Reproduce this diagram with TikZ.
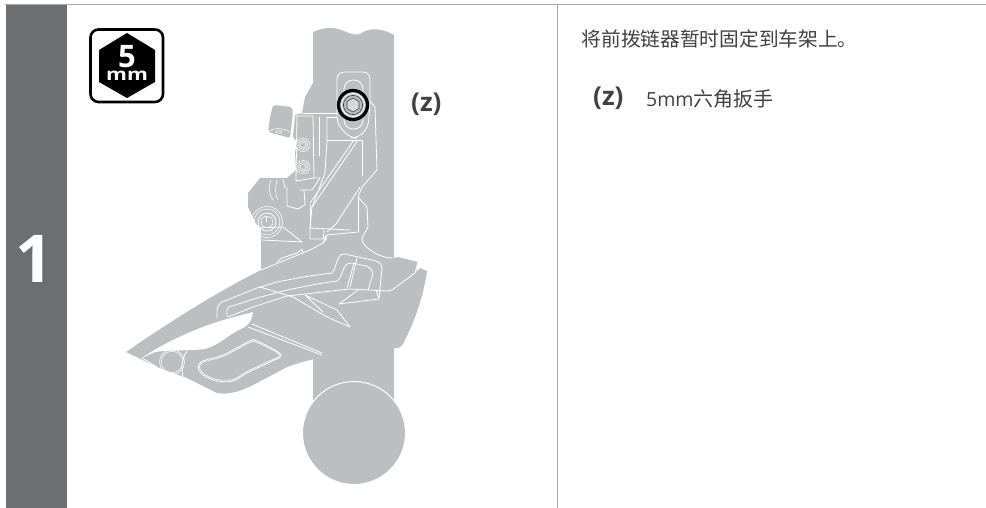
\documentclass[tikz,border=0pt]{standalone}
\usepackage{fontspec}
\setmainfont{Open Sans}
\newfontfamily\cjk{Noto Sans CJK SC}
\definecolor{part}{HTML}{BCBEC0}
\definecolor{side}{HTML}{6D6E71}
\definecolor{rule}{HTML}{A7A9AC}
\definecolor{ink}{HTML}{414042}
\tikzset{
  cut/.style={draw=white,line width=0.8pt,line join=round,line cap=round},
  fine/.style={draw=white,line width=0.55pt},
  dark/.style={draw=ink,line width=0.6pt},
  txt/.style={inner sep=0pt,anchor=base west,text=ink}
}
\begin{document}
\begin{tikzpicture}[x=1pt,y=-1pt]
\useasboundingbox (0,0) rectangle (986,508);
% frame
\fill[side] (6,5) rectangle (67,508);
\draw[rule,line width=1.4pt] (5,4.5) -- (986,4.5);
\draw[rule,line width=1.4pt] (557.5,5) -- (557.5,508);
\node[inner sep=0pt,text=white,font=\bfseries\fontsize{66}{66}\selectfont] (stepnum) at (34.5,259) {1};
% tool badge
\draw[black,line width=2.6pt,fill=white,rounded corners=8pt] (90.5,29.5) rectangle (163,102);
\fill[black] (127,33) -- (155,50) -- (155,82) -- (127,98) -- (99,82) -- (99,50) -- cycle;
\node[inner sep=0pt,text=white,font=\bfseries] (badgetext) at (127,62.7) {\vbox{\offinterlineskip
  \hbox to 50pt{\hss\fontsize{31}{31}\selectfont 5\hss}\vskip 3pt
  \hbox to 50pt{\hss\fontsize{17}{17}\selectfont\scalebox{1.25}[1]{mm}\hss}}};
% seat tube
\fill[part] (313,32) .. controls (322,28) and (330,27) .. (338,29) .. controls (346,31) and (352,36) .. (360,34)
  .. controls (368,28) and (380,27) .. (394,35) -- (394,400) -- (313,400) -- cycle;
\draw[white,line width=1pt,fill=part] (354,433) circle (51.5);
% upper body and left parts
\fill[part] (320,75) -- (313,83) -- (305,97) -- (302,113) -- (295,115) -- (293,137) -- (297,142)
  -- (295,153) -- (296,170) -- (287,178) -- (260,178) -- (248,193) -- (248,207) -- (256,224)
  -- (261,228) -- (261,275) -- (330,275) -- (330,120) -- cycle;
\fill[part,rounded corners=2pt] (273,105) -- (292,107) -- (293,112) -- (290,138) -- (268,132) -- (270,117) -- cycle;
\draw[fine] (268,132) .. controls (275,127) and (283,128) .. (290,132);
\draw[fine] (279,132) ellipse (3 and 1.3);
% main cage
\fill[part] (126,352) .. controls (165,325) and (215,293) .. (261,270) -- (310,250) -- (323,243) -- (330,230)
  -- (360,230) -- (363,243) .. controls (368,250) and (380,258) .. (393,258) -- (398,257) -- (418,262) -- (416,272) -- (420,268)
  -- (427,271) .. controls (425,285) and (420,310) .. (405,340) .. controls (402,348) and (398,349) .. (393,348)
  -- (370,337) .. controls (365,334) and (363,336) .. (362,338) -- (357,349) .. controls (355,353) and (352,355) .. (350,355)
  .. controls (330,356) and (315,357) .. (287,367) -- (257,383) .. controls (240,392) and (228,395) .. (217,393)
  -- (187,378) -- (170,372) -- (157,367) -- cycle;
% opening between the cage plates
\fill[white] (142,358) .. controls (160,345) and (195,328) .. (227,319) -- (253,312)
  .. controls (252,320) and (250,324) .. (243,328) .. controls (230,333) and (220,345) .. (205,349)
  .. controls (190,351) and (165,350) .. (155,352) -- cycle;
% window
\draw[cut,fill=part] plot[smooth cycle,tension=0.55] coordinates {(198,367) (203,361) (223,355) (250,341) (257,341) (278,352) (280,357) (270,362) (247,373) (233,381) (217,381) (203,375)};
\draw[fine] plot[smooth cycle,tension=0.55] coordinates {(199.5,367) (204,362) (224,356) (250,342.5) (257,342.5) (277,352.5) (278.5,357) (269,361) (246,372) (233,379.5) (217,379.5) (204,374)};
% pivot at nose
\draw[cut] (142,358) -- (157,367);
\draw[fine] (141,361) -- (155,369);
\draw[fine] (172,362) circle (12.5);
\draw[fine] (172,362) circle (10.7);
\draw[cut] (187,351) .. controls (182,358) and (181,367) .. (183,378);
% channels in the cage
\draw[cut] (217,318) -- (217,310) .. controls (218,305) and (220,303) .. (222,302) -- (257,288) -- (277,282) -- (303,277) -- (332,273)
  .. controls (335,270) and (336,263) .. (338,259) .. controls (340,254) and (342,254) .. (345,254) -- (376,261) .. controls (381,263) and (382,265) .. (382,268) -- (379,298);
\draw[cut] (227,317) -- (227,310) .. controls (228,307) and (230,306) .. (232,306) -- (257,298) -- (287,290) -- (317,284) -- (337,281)
  .. controls (341,279) and (342,272) .. (344,268) .. controls (346,264) and (348,263) .. (352,263) -- (366,266) .. controls (371,268) and (373,271) .. (373,274) -- (368,290);
\draw[cut] (228,317) -- (253,307) -- (287,296) -- (323,292) -- (350,289) -- (387,291) -- (392,290) -- (415,273) -- (418,262);
\draw[cut] (357,258) -- (350,287);
\draw[cut] (354,263) -- (347,288);
\draw[cut] (358,290) -- (339,304) -- (379,299) -- (376,290);
\draw[cut] (260,287) -- (293,297) -- (327,317) -- (350,327) -- (337,310) -- (305,295) -- (323,312);
\draw[cut] (248,327) -- (322,355);
\draw[cut] (252,324) -- (322,353);
\draw[cut] (277,262) -- (282,258) -- (297,253) -- (302,249) -- (303,254);
\draw[cut] (261,270) -- (310,250) -- (323,243) -- (327,238);
\draw[cut] (363,243) .. controls (368,250) and (380,258) .. (393,258);
% column
\draw[cut] (369,100) -- (375,107) -- (377,170) -- (362,187) -- (358,197) -- (367,207) -- (368,227) -- (362,238) -- (363,243);
\draw[cut] (327,140) -- (362,140) -- (362,176);
\draw[cut] (327,117) -- (327,140) -- (325,173) -- (312,207);
\draw[cut] (358,140) -- (312,207);
\draw[cut] (354,140) -- (310,203);
\draw[cut] (360,187) -- (336,224) -- (327,232);
\draw[cut] (358,197) -- (358,232);
\draw[cut] (312,207) -- (310,228) -- (310,239) -- (323,239) -- (327,235) -- (358,232);
\draw[cut] (310,228) -- (350,230);
\draw[cut] (323,239) -- (324,230);
\draw[cut] (327,235) -- (323,243);
\draw[cut] (310,205) -- (310,228);
% screw block
\draw[cut] (296,116) -- (313,116) -- (314,178) -- (296,181) -- (297,116);
\draw[cut] (302,113) -- (337,113);
\draw[cut] (314,178) -- (320,178) -- (312,190) -- (300,190);
\draw[cut] (287,187) -- (287,206) -- (298,209) -- (305,205) -- (304,190);
\draw[cut] (327,117) -- (337,117);
\draw[cut] (319,117) -- (319,156);
\foreach \sy in {145,167}{
  \draw[fine,fill=part] (303,\sy) ellipse (7 and 6.5);
  \draw[fine] (303,\sy) ellipse (5 and 4.5);
  \draw[fine] (303,\sy) ellipse (3 and 2.7);
}
% lower clamp
\draw[cut] (283,179) -- (285,188);
\draw[cut] (260,228) -- (283,227) -- (302,242) -- (262,240);
\draw[fine] (271,180) .. controls (268,187) and (269,195) .. (273,200);
\draw[fine] (277,180) .. controls (275,187) and (275,195) .. (278,200);
\foreach \r in {15.5,13}{\draw[fine] (267,222) circle (\r);}
\draw[cut] (267,222) circle (9);
\draw[fine] (261,219) -- (266,216) -- (272,218) -- (273,224) -- (268,228) -- (262,226) -- cycle;
\draw[fine] (266,216) -- (266,222);
% front clamp with bolt
\draw[cut,fill=part,rounded corners=7pt] (337,72) -- (370,72) -- (370,106) -- (368,128) -- (358,138) -- (350,138) -- (337,124) -- cycle;
\draw[cut,rounded corners=9pt] (344,80) rectangle (363,129);
\draw[black,line width=3.2pt,fill=part] (353,105) circle (14.5);
\draw[white,line width=0.8pt] (353,105) circle (11.5);
\draw[dark] (353,105) circle (9.6);
\draw[dark,fill=part!60!white] (353,98) -- (359,101.5) -- (359,108.5) -- (353,112) -- (347,108.5) -- (347,101.5) -- cycle;
% labels
\node[txt,font=\bfseries\fontsize{26}{26}\selectfont] (zfig) at (411,112) {(z)};
\node[txt,font=\cjk\fontsize{19.7}{20}\selectfont] (stepline) at (581.5,46.5) {将前拨链器暂时固定到车架上。};
\node[txt,font=\bfseries\fontsize{26}{26}\selectfont] (zkey) at (593,106) {(z)};
\node[txt,font=\fontsize{19.5}{20}\selectfont] (ztext) at (646,107) {5mm{\cjk\fontsize{20}{20}\selectfont 六角扳手}};
\end{tikzpicture}
\end{document}
